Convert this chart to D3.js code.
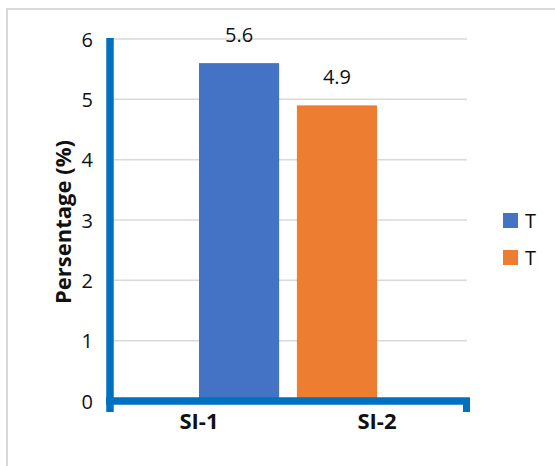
<!DOCTYPE html>
<html><head><meta charset="utf-8">
<script src="https://cdn.jsdelivr.net/npm/d3@7"></script>
<style>body{margin:0;background:#fff}svg{display:block}</style>
</head><body>
<script>
const categories = ["SI-1", "SI-2"];
const seriesNames = ["T", "T"];
const seriesBlue = [5.6, null];
const seriesOrange = [null, 4.9];
const yTicks = [0, 1, 2, 3, 4, 5, 6];
const colors = ["#4472c4", "#ed7d31"];
const clusterOrder = [1, 0]; // index into series: orange slot first, blue slot second

const W = 555, H = 466;
const svg = d3.select("body").append("svg").attr("width", W).attr("height", H);
const font = "'Open Sans', sans-serif";
const ink = "#111";

// outer chart border
svg.append("rect").attr("x", 7).attr("y", 9).attr("width", 560).attr("height", 470)
  .attr("fill", "#fff").attr("stroke", "#d9d9d9").attr("stroke-width", 2);

const x = d3.scaleBand().domain(categories).range([110, 466]).paddingInner(0).paddingOuter(0);
const y = d3.scaleLinear().domain([0, 6]).range([401, 39]);
const clusterW = x.bandwidth() * 0.9;
const xs = d3.scaleBand().domain(clusterOrder).range([-clusterW / 2, clusterW / 2]);

// gridlines
svg.append("g").selectAll("line").data(yTicks.filter(d => d > 0)).join("line")
  .attr("x1", 113).attr("x2", 467)
  .attr("y1", d => y(d)).attr("y2", d => y(d))
  .attr("stroke", "#d9d9d9").attr("stroke-width", 1.5);

// bars
const series = [seriesBlue, seriesOrange];
const barData = [];
series.forEach((vals, si) => vals.forEach((v, ci) => {
  if (v != null) barData.push({ si, cat: categories[ci], v });
}));
const cx = c => x(c) + x.bandwidth() / 2;
svg.append("g").selectAll("rect").data(barData).join("rect")
  .attr("x", d => cx(d.cat) + xs(d.si))
  .attr("width", xs.bandwidth())
  .attr("y", d => y(d.v))
  .attr("height", d => y(0) - y(d.v))
  .attr("fill", d => colors[d.si]);

// value labels
svg.append("g").selectAll("text").data(barData).join("text")
  .attr("x", d => cx(d.cat) + xs(d.si) + xs.bandwidth() / 2)
  .attr("y", d => y(d.v) - 21)
  .attr("text-anchor", "middle")
  .attr("font-family", font).attr("font-size", 20).attr("fill", ink)
  .text(d => d.v.toFixed(1));

// y axis
const yAxis = d3.axisLeft(y).tickValues(yTicks).tickSize(0).tickPadding(17).tickFormat(d3.format("d"));
const gy = svg.append("g").attr("transform", "translate(110,0)").call(yAxis);
gy.select(".domain").remove();
gy.selectAll("text").attr("font-family", font).attr("font-size", 20).attr("fill", ink).attr("dy", "0.36em");
svg.append("line").attr("x1", 110).attr("x2", 110).attr("y1", 38).attr("y2", 412)
  .attr("stroke", "#0070c0").attr("stroke-width", 7.5);

// x axis
const xAxis = d3.axisBottom(x).tickSize(0).tickPadding(12);
const gx = svg.append("g").attr("transform", "translate(0,401)").call(xAxis);
gx.select(".domain").remove();
gx.selectAll("text").attr("font-family", font).attr("font-size", 22).attr("font-weight", "bold").attr("fill", ink);
svg.append("line").attr("x1", 106).attr("x2", 470).attr("y1", 401).attr("y2", 401)
  .attr("stroke", "#0070c0").attr("stroke-width", 7.5);
svg.append("line").attr("x1", 466.5).attr("x2", 466.5).attr("y1", 398).attr("y2", 412)
  .attr("stroke", "#0070c0").attr("stroke-width", 7);

// y axis title
svg.append("text").attr("transform", "translate(63,222) rotate(-90)")
  .attr("text-anchor", "middle").attr("dy", "0.35em")
  .attr("font-family", font).attr("font-size", 22).attr("font-weight", "bold").attr("fill", ink)
  .text("Persentage (%)");

// legend
const lg = svg.append("g").selectAll("g").data(seriesNames).join("g")
  .attr("transform", (d, i) => `translate(503,${213 + i * 37})`);
lg.append("rect").attr("width", 15).attr("height", 15).attr("fill", (d, i) => colors[i]);
lg.append("text").attr("x", 22).attr("y", 7.5).attr("dy", "0.36em")
  .attr("font-family", font).attr("font-size", 20).attr("fill", ink).text(d => d);
</script>
</body></html>
